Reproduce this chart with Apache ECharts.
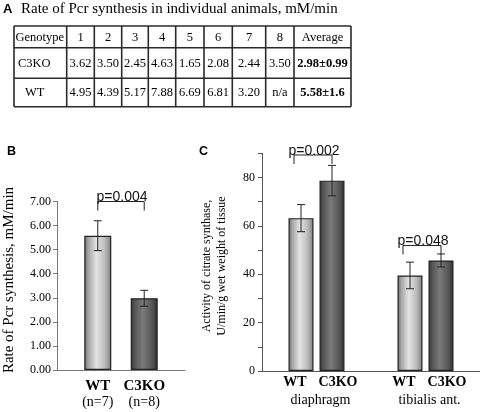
<!DOCTYPE html>
<html><head><meta charset="utf-8">
<script src="https://cdn.jsdelivr.net/npm/echarts@6/dist/echarts.min.js"></script>
<style>html,body{margin:0;padding:0;background:#fff}#c{width:480px;height:412px}</style>
</head><body><div id="c"></div>
<script>
// ---------- Panel A: table data ----------
const tableTitle = 'Rate of Pcr synthesis in individual animals, mM/min';
const tableHeader = ['Genotype', '1', '2', '3', '4', '5', '6', '7', '8', 'Average'];
const genotypes = ['C3KO', 'WT'];
const c3koRates = ['3.62', '3.50', '2.45', '4.63', '1.65', '2.08', '2.44', '3.50'];
const wtRates = ['4.95', '4.39', '5.17', '7.88', '6.69', '6.81', '3.20', 'n/a'];
const averages = ['2.98\u00b10.99', '5.58\u00b11.6'];

// ---------- Panel B: Pcr synthesis ----------
const pcrGroups = ['WT', 'C3KO'];
const pcrN = ['(n=7)', '(n=8)'];
const pcrMean = [5.58, 2.98];
const pcrErr = [0.62, 0.33];
const pcrP = ['p=0.004'];
const pcrPLevel = [7.0];

// ---------- Panel C: citrate synthase ----------
const muscles = ['diaphragm', 'tibialis ant.'];
const csWT = [63.2, 39.5];
const csWTErr = [5.6, 5.5];
const csKO = [78.7, 45.7];
const csKOErr = [6.3, 2.7];
const csP = ['p=0.002', 'p=0.048'];
const csPLevel = [89.3, 51.9];

// ---------- styling ----------
const SERIF = 'Liberation Serif';
const SANS = 'Liberation Sans';
const wtFill = {type: 'linear', x: 0, y: 0, x2: 1, y2: 0, colorStops: [
  {offset: 0, color: '#6e6e6e'}, {offset: 0.15, color: '#a5a5a5'}, {offset: 0.45, color: '#e4e4e4'},
  {offset: 0.75, color: '#bdbdbd'}, {offset: 1, color: '#808080'}]};
const koFill = {type: 'linear', x: 0, y: 0, x2: 1, y2: 0, colorStops: [
  {offset: 0, color: '#333'}, {offset: 0.15, color: '#555'}, {offset: 0.45, color: '#7a7a7a'},
  {offset: 0.8, color: '#555'}, {offset: 1, color: '#2e2e2e'}]};
const B_BAR = 27, B_GAP = 0.72, C_BAR = 25, C_GAP = 0.24;
const bOff = (B_BAR + B_BAR * B_GAP) / 2;
const cOff = (C_BAR + C_BAR * C_GAP) / 2;

function errRender(offset) {
  return function (params, api) {
    const cat = api.value(0), v = api.value(1), e = api.value(2);
    const x = api.coord([cat, v])[0] + offset;
    const yt = api.coord([cat, v + e])[1];
    const yb = api.coord([cat, v - e])[1];
    const st = {stroke: '#222', lineWidth: 1};
    return {type: 'group', children: [
      {type: 'line', shape: {x1: x, y1: yt, x2: x, y2: yb}, style: st},
      {type: 'line', shape: {x1: x - 4, y1: yt, x2: x + 4, y2: yt}, style: st},
      {type: 'line', shape: {x1: x - 4, y1: yb, x2: x + 4, y2: yb}, style: st}
    ]};
  };
}
function bracketRender(offset, leftShift, labels) {
  return function (params, api) {
    const cat = api.value(0), lv = api.value(1);
    const c = api.coord([cat, lv]);
    const xl = c[0] - offset + leftShift, xr = c[0] + offset, y = c[1];
    return {type: 'group', children: [
      {type: 'polyline', shape: {points: [[xl, y + 9], [xl, y], [xr, y], [xr, y + 9]]},
        style: {stroke: '#222', lineWidth: 1, fill: null}},
      {type: 'text', style: {text: labels[params.dataIndex], x: (xl + xr) / 2 + 1, y: y + 3,
        align: 'center', verticalAlign: 'bottom', fontSize: 14, fontFamily: SANS, fill: '#111'}}
    ]};
  };
}

// ---------- table graphics ----------
const colX = [14, 66.7, 94.3, 121.7, 148.3, 175.7, 204, 232.3, 265.7, 294, 351];
const rowY = [26, 47.7, 78.3, 106.7];
const graphics = [];
const lineSt = {stroke: '#2a2a2a', lineWidth: 1.6};
rowY.forEach(y => graphics.push({type: 'line', shape: {x1: colX[0], y1: y, x2: colX[colX.length - 1], y2: y}, style: lineSt}));
colX.forEach(x => graphics.push({type: 'line', shape: {x1: x, y1: rowY[0], x2: x, y2: rowY[rowY.length - 1]}, style: lineSt}));
function cellText(txt, col, row, opts) {
  opts = opts || {};
  const cx = opts.left != null ? colX[col] + opts.left : (colX[col] + colX[col + 1]) / 2;
  graphics.push({type: 'text', x: cx, y: (rowY[row] + rowY[row + 1]) / 2 + 0.5,
    style: {text: txt, align: opts.left != null ? 'left' : 'center', verticalAlign: 'middle',
      fontSize: 12.5, fontFamily: SERIF, fontWeight: opts.bold ? 'bold' : 'normal', fill: '#000'}});
}
tableHeader.forEach((h, i) => cellText(h, i, 0, i === 0 ? {left: 1.5} : {}));
cellText(genotypes[0], 0, 1, {left: 4});
cellText(genotypes[1], 0, 2, {left: 11});
c3koRates.forEach((v, i) => cellText(v, i + 1, 1));
wtRates.forEach((v, i) => cellText(v, i + 1, 2));
cellText(averages[0], 9, 1, {bold: true});
cellText(averages[1], 9, 2, {bold: true});

graphics.push(
  {type: 'text', x: 3, y: 9, style: {text: 'A', fontSize: 13, fontWeight: 'bold', fontFamily: SANS, verticalAlign: 'middle', fill: '#000'}},
  {type: 'text', x: 21, y: 9, style: {text: tableTitle, fontSize: 15, fontFamily: SERIF, verticalAlign: 'middle', fill: '#000'}},
  {type: 'text', x: 7, y: 152, style: {text: 'B', fontSize: 12.5, fontWeight: 'bold', fontFamily: SANS, verticalAlign: 'middle', fill: '#000'}},
  {type: 'text', x: 199, y: 152, style: {text: 'C', fontSize: 12.5, fontWeight: 'bold', fontFamily: SANS, verticalAlign: 'middle', fill: '#000'}},
  {type: 'text', x: 9, y: 280, rotation: Math.PI / 2,
    style: {text: 'Rate of Pcr synthesis, mM/min', fontSize: 15, fontFamily: SERIF, align: 'center', verticalAlign: 'middle', fill: '#000'}},
  {type: 'text', x: 214.5, y: 266, rotation: Math.PI / 2,
    style: {text: 'Activity of citrate synthase,\nU/min/g wet weight of tissue', fontSize: 12, lineHeight: 15,
      fontFamily: SERIF, align: 'center', verticalAlign: 'middle', fill: '#000'}}
);

const axisLabelStyle = {fontFamily: SERIF, fontSize: 12, color: '#000'};

const option = {
  animation: false,
  backgroundColor: '#fff',
  graphic: graphics,
  grid: [
    {left: 57, top: 201.5, width: 128, height: 168.5},
    {left: 262, top: 153.3, width: 224, height: 217.7}
  ],
  xAxis: [
    {gridIndex: 0, type: 'category', data: ['Pcr'], axisLine: {lineStyle: {color: '#777'}},
      axisTick: {show: false}, axisLabel: {show: false}},
    {gridIndex: 1, type: 'category', data: muscles, axisLine: {lineStyle: {color: '#555'}},
      axisTick: {show: false},
      axisLabel: {margin: 22, fontFamily: SERIF, fontSize: 14, color: '#000', padding: [0, 0, 0, 8]}}
  ],
  yAxis: [
    {gridIndex: 0, type: 'value', min: 0, max: 7, interval: 1,
      axisLine: {show: true, lineStyle: {color: '#777'}},
      axisTick: {show: true, length: 4, lineStyle: {color: '#777'}},
      splitLine: {show: false},
      axisLabel: Object.assign({margin: 6, formatter: v => v.toFixed(2)}, axisLabelStyle)},
    {gridIndex: 1, type: 'value', min: 0, max: 90, interval: 10,
      axisLine: {show: true, lineStyle: {color: '#555'}},
      axisTick: {show: true, length: 4, lineStyle: {color: '#555'}},
      splitLine: {show: false},
      axisLabel: Object.assign({margin: 7, fontSize: 12.5, formatter: v => (v % 20 === 0 ? String(v) : '')}, axisLabelStyle)}
  ],
  series: [
    // Panel B bars
    {type: 'bar', name: pcrGroups[0], xAxisIndex: 0, yAxisIndex: 0, data: [pcrMean[0]],
      barWidth: B_BAR, barGap: (B_GAP * 100) + '%',
      itemStyle: {color: wtFill, borderColor: '#222', borderWidth: 1.2},
      label: {show: true, position: 'bottom', distance: 8,
        formatter: '{b|' + pcrGroups[0] + '}\n{n|' + pcrN[0] + '}',
        rich: {b: {fontFamily: SERIF, fontSize: 15, fontWeight: 'bold', lineHeight: 16, color: '#000'},
               n: {fontFamily: SERIF, fontSize: 14, lineHeight: 17, color: '#000'}}}},
    {type: 'bar', name: pcrGroups[1], xAxisIndex: 0, yAxisIndex: 0, data: [pcrMean[1]],
      barWidth: B_BAR, barGap: (B_GAP * 100) + '%',
      itemStyle: {color: koFill, borderColor: '#222', borderWidth: 1.2},
      label: {show: true, position: 'bottom', distance: 8,
        formatter: '{b|' + pcrGroups[1] + '}\n{n|' + pcrN[1] + '}',
        rich: {b: {fontFamily: SERIF, fontSize: 15, fontWeight: 'bold', lineHeight: 16, color: '#000'},
               n: {fontFamily: SERIF, fontSize: 14, lineHeight: 17, color: '#000'}}}},
    {type: 'custom', xAxisIndex: 0, yAxisIndex: 0, z: 5, renderItem: errRender(-bOff),
      encode: {x: 0, y: 1}, data: [[0, pcrMean[0], pcrErr[0]]]},
    {type: 'custom', xAxisIndex: 0, yAxisIndex: 0, z: 5, renderItem: errRender(bOff),
      encode: {x: 0, y: 1}, data: [[0, pcrMean[1], pcrErr[1]]]},
    {type: 'custom', xAxisIndex: 0, yAxisIndex: 0, z: 5, renderItem: bracketRender(bOff, 0, pcrP),
      encode: {x: 0, y: 1}, data: pcrPLevel.map((v, i) => [i, v])},
    // Panel C bars
    {type: 'bar', name: 'WT', xAxisIndex: 1, yAxisIndex: 1, data: csWT,
      barWidth: C_BAR, barGap: (C_GAP * 100) + '%',
      itemStyle: {color: wtFill, borderColor: '#222', borderWidth: 1.2},
      label: {show: true, position: 'bottom', distance: 4, offset: [-6, 0], formatter: '{a}',
        fontFamily: SERIF, fontSize: 14, fontWeight: 'bold', color: '#000'}},
    {type: 'bar', name: 'C3KO', xAxisIndex: 1, yAxisIndex: 1, data: csKO,
      barWidth: C_BAR, barGap: (C_GAP * 100) + '%',
      itemStyle: {color: koFill, borderColor: '#222', borderWidth: 1.2},
      label: {show: true, position: 'bottom', distance: 4, offset: [6, 0], formatter: '{a}',
        fontFamily: SERIF, fontSize: 14, fontWeight: 'bold', color: '#000'}},
    {type: 'custom', xAxisIndex: 1, yAxisIndex: 1, z: 5, renderItem: errRender(-cOff),
      encode: {x: 0, y: 1}, data: csWT.map((v, i) => [i, v, csWTErr[i]])},
    {type: 'custom', xAxisIndex: 1, yAxisIndex: 1, z: 5, renderItem: errRender(cOff),
      encode: {x: 0, y: 1}, data: csKO.map((v, i) => [i, v, csKOErr[i]])},
    {type: 'custom', xAxisIndex: 1, yAxisIndex: 1, z: 5, renderItem: bracketRender(cOff, -7, csP),
      encode: {x: 0, y: 1}, data: csPLevel.map((v, i) => [i, v])}
  ]
};
const chart = echarts.init(document.getElementById('c'));
chart.setOption(option);
</script>
</body></html>
